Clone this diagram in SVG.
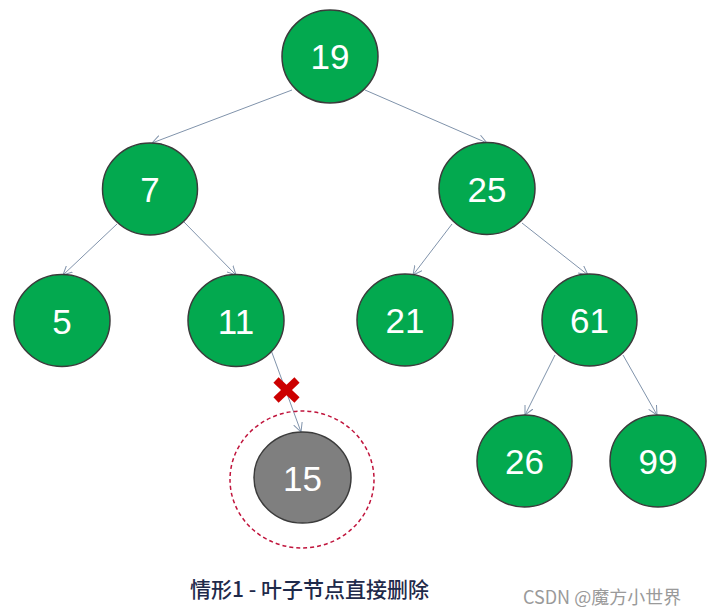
<svg xmlns="http://www.w3.org/2000/svg" width="719" height="616" viewBox="0 0 719 616">
<style>
.n{fill:#03a94f;stroke:#3b3b3b;stroke-width:1.5}
.g{fill:#7f7f7f;stroke:#3b3b3b;stroke-width:1.5}
.t{font-family:"Liberation Sans",Arial,sans-serif;font-size:35px;fill:#ffffff;text-anchor:middle}
.e{stroke:#8093ab;stroke-width:1;fill:none;marker-end:url(#a)}
</style>
<defs>
<marker id="a" viewBox="0 0 10 10" refX="9" refY="5" markerWidth="10" markerHeight="10" markerUnits="userSpaceOnUse" orient="auto">
<path d="M0,0.5 L9,5 L0,9.5" fill="none" stroke="#8093ab" stroke-width="1"/>
</marker>
</defs>
<rect width="719" height="616" fill="#ffffff"/>
<g id="connectors">
<line class="e" x1="292" y1="90" x2="152" y2="143"/>
<line class="e" x1="365" y1="90" x2="487" y2="143"/>
<line class="e" x1="117" y1="224" x2="63" y2="275"/>
<line class="e" x1="184" y1="222" x2="236" y2="275"/>
<line class="e" x1="452" y1="224" x2="413" y2="275"/>
<line class="e" x1="522" y1="223" x2="588" y2="275"/>
<line class="e" x1="555" y1="355" x2="525" y2="415"/>
<line class="e" x1="623" y1="355" x2="657" y2="415"/>
<line class="e" x1="271" y1="350" x2="301" y2="432"/>
</g>
<g id="n19"><ellipse class="n" cx="330" cy="56.5" rx="48" ry="46.5"/><text class="t" x="330" y="69">19</text></g>
<g id="n7"><ellipse class="n" cx="150" cy="189" rx="47.5" ry="46"/><text class="t" x="150" y="202">7</text></g>
<g id="n25"><ellipse class="n" cx="487" cy="188.5" rx="48" ry="46"/><text class="t" x="487" y="201.5">25</text></g>
<g id="n5"><ellipse class="n" cx="62" cy="320.5" rx="48" ry="46"/><text class="t" x="62" y="333.5">5</text></g>
<g id="n11"><ellipse class="n" cx="236" cy="320.5" rx="48" ry="46"/><text class="t" x="236" y="333.5">11</text></g>
<g id="n21"><ellipse class="n" cx="405" cy="320" rx="48" ry="46"/><text class="t" x="405" y="333">21</text></g>
<g id="n61"><ellipse class="n" cx="589.5" cy="320" rx="47.5" ry="46"/><text class="t" x="589.5" y="333">61</text></g>
<g id="n26"><ellipse class="n" cx="524.5" cy="461" rx="47.5" ry="46"/><text class="t" x="524.5" y="474">26</text></g>
<g id="n99"><ellipse class="n" cx="658" cy="461" rx="48" ry="46"/><text class="t" x="658" y="474">99</text></g>
<g id="n15">
<ellipse cx="302" cy="479.5" rx="72" ry="68.5" fill="none" stroke="#c0143c" stroke-width="1.5" stroke-dasharray="4 3"/>
<ellipse class="g" cx="302.5" cy="477.5" rx="48.5" ry="45.5"/><text class="t" x="302.5" y="490.5">15</text>
</g>
<g id="cross" stroke="#cc0000" stroke-width="7.5" stroke-linecap="butt">
<line x1="276" y1="380" x2="297" y2="400"/>
<line x1="297" y1="380" x2="276" y2="400"/>
</g>
<text x="190" y="597" font-family="'Noto Sans CJK SC','Noto Sans',sans-serif" font-size="21" font-weight="500" fill="#1f2a4a">情形1 - 叶子节点直接删除</text>
<text x="523" y="604" font-family="'Noto Sans CJK SC','Noto Sans',sans-serif" font-size="18" fill="#9a9a9a">CSDN @魔方小世界</text>
</svg>
